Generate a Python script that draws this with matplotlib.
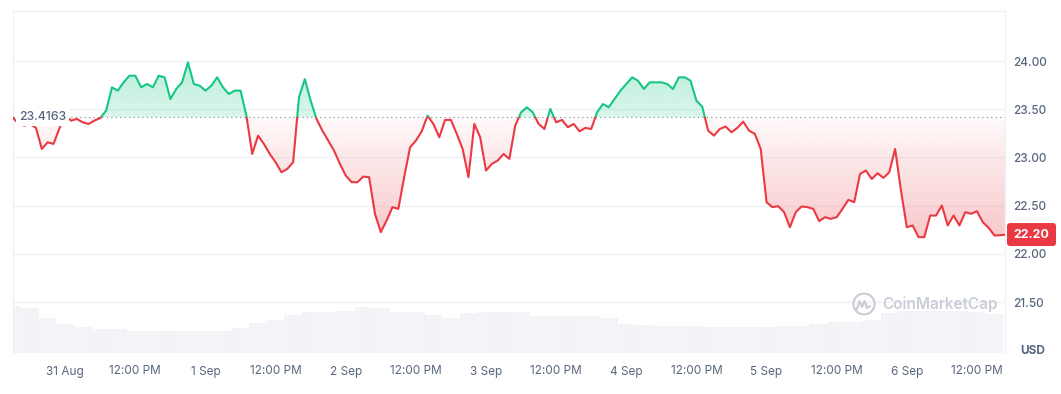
import numpy as np
import matplotlib
matplotlib.use("Agg")
import matplotlib.pyplot as plt
import matplotlib.colors as mcolors
from matplotlib.path import Path
from matplotlib.patches import Rectangle, FancyBboxPatch, Circle
from matplotlib.lines import Line2D
from matplotlib.transforms import IdentityTransform

plt.rcParams['font.family'] = ['Inter', 'DejaVu Sans']
plt.rcParams['hatch.linewidth'] = 0.5

# hourly prices, hours counted from 31 Aug 00:00 (first point = 30 Aug 15:00)
price_start_hour = -9
prices = [
    23.416, 23.35, 23.33, 23.347, 23.306, 23.088, 23.157, 23.140, 23.30,
    23.434, 23.382, 23.399, 23.364, 23.347, 23.382, 23.409, 23.485, 23.727, 23.693, 23.779, 23.848,
    23.848, 23.727, 23.762, 23.727, 23.848, 23.831, 23.606, 23.710, 23.779, 23.986, 23.762, 23.744,
    23.693, 23.744, 23.831, 23.727, 23.658, 23.693, 23.693, 23.434, 23.036, 23.226, 23.140, 23.036,
    22.950, 22.846, 22.881, 22.950, 23.624, 23.813, 23.589, 23.399, 23.278, 23.174, 23.071, 22.933,
    22.812, 22.743, 22.743, 22.801, 22.795, 22.415, 22.225, 22.346, 22.484, 22.466, 22.795, 23.105,
    23.174, 23.271, 23.434, 23.347, 23.209, 23.389, 23.389, 23.244, 23.088, 22.795, 23.347, 23.209,
    22.864, 22.933, 22.967, 23.036, 22.985, 23.330, 23.468, 23.520, 23.468, 23.347, 23.295, 23.503,
    23.364, 23.389, 23.313, 23.347, 23.271, 23.306, 23.295, 23.468, 23.554, 23.520, 23.606, 23.693,
    23.762, 23.831, 23.796, 23.710, 23.779, 23.779, 23.779, 23.762, 23.710, 23.831, 23.831, 23.796,
    23.589, 23.527, 23.278, 23.226, 23.295, 23.320, 23.261, 23.306, 23.371, 23.278, 23.244, 23.088,
    22.535, 22.484, 22.494, 22.432, 22.276, 22.432, 22.491, 22.484, 22.466, 22.339, 22.380, 22.363,
    22.380, 22.466, 22.560, 22.535, 22.829, 22.864, 22.777, 22.836, 22.788, 22.846, 23.088, 22.656,
    22.276, 22.294, 22.173, 22.173, 22.397, 22.397, 22.501, 22.294, 22.397, 22.294, 22.432, 22.415,
    22.442, 22.328, 22.270, 22.190, 22.193, 22.200,
]
open_price = 23.4163
last_price = 22.20

# 3-hourly volume (millions, relative)
vol_start_hour = -9
volumes = [4.7, 4.5, 3.5, 2.9, 2.6, 2.4, 2.4, 2.2, 2.2, 2.2, 2.2, 2.2, 2.2, 2.5, 3.0, 3.3,
           3.8, 4.1, 4.1, 4.2, 4.6, 4.5, 4.1, 4.1, 3.8, 3.5, 4.0, 4.1, 4.1, 4.1, 3.7, 3.7,
           3.7, 3.7, 3.5, 2.9, 2.8, 2.7, 2.7, 2.7, 2.6, 2.6, 2.6, 2.6, 2.7, 2.7, 2.9, 3.1,
           3.1, 3.3, 4.0, 4.2, 4.2, 4.2, 4.2, 4.1, 3.9]

xtick_hours = list(range(0, 157, 12))
xtick_labels = ['31 Aug', '12:00 PM', '1 Sep', '12:00 PM', '2 Sep', '12:00 PM', '3 Sep',
                '12:00 PM', '4 Sep', '12:00 PM', '5 Sep', '12:00 PM', '6 Sep', '12:00 PM']
ytick_values = [21.5, 22.0, 22.5, 23.0, 23.5, 24.0]

GREEN = '#16c784'
RED = '#ea3943'
GRID = '#eff2f5'
TEXT = '#58667e'

W, H = 1061, 394
fig = plt.figure(figsize=(W / 100, H / 100), dpi=100)
ax = fig.add_axes([12.6 / W, 41 / H, 992.4 / W, 342 / H])
XLIM = (-9.0, 160.8)
YLIM = (20.971, 24.519)

x = np.arange(len(prices)) + price_start_hour
y = np.array(prices)

# volume in the background
vax = ax.twinx()
vx = np.arange(len(volumes)) * 3 + vol_start_hour
vax.bar(vx, volumes, width=3, color='#f0f2f5', edgecolor='#f9fafb', hatch='||||||', linewidth=0)
vax.set_ylim(0, 34.2)
vax.axis('off')
vax.set_zorder(ax.get_zorder() - 1)
ax.patch.set_visible(False)


def gradient_fill(where, color, lo, hi, a_lo, a_hi):
    coll = ax.fill_between(x, y, open_price, where=where, interpolate=True,
                           facecolor='none', edgecolor='none')
    clip = Path.make_compound_path(*coll.get_paths())
    rgba = np.zeros((256, 1, 4))
    rgba[..., :3] = mcolors.to_rgb(color)
    rgba[..., 3] = np.linspace(a_lo, a_hi, 256)[:, None]
    img = ax.imshow(rgba, extent=[x[0], x[-1], lo, hi], origin='lower', aspect='auto', zorder=2)
    img.set_clip_path(clip, transform=ax.transData)


gradient_fill(y >= open_price, GREEN, open_price, 24.05, 0.16, 0.32)
gradient_fill(y <= open_price, RED, 22.05, open_price, 0.30, 0.03)

# line coloured above / below the open price
ln_up, = ax.plot(x, y, color=GREEN, lw=1.5, zorder=4, solid_joinstyle='round')
ln_up.set_clip_path(Rectangle((XLIM[0], open_price), XLIM[1] - XLIM[0], 5, transform=ax.transData))
ln_dn, = ax.plot(x, y, color=RED, lw=1.5, zorder=4, solid_joinstyle='round')
ln_dn.set_clip_path(Rectangle((XLIM[0], open_price - 5), XLIM[1] - XLIM[0], 5, transform=ax.transData))

ax.axhline(open_price, color='#7d8595', lw=0.8, ls=(0, (1, 3)), zorder=3)
ax.text(-3.85, open_price, f'{open_price:.4f}', ha='center', va='center', fontsize=8.8,
        color=TEXT, fontweight='medium', zorder=6,
        bbox=dict(boxstyle='square,pad=0.22', fc='white', ec='none'))

ax.set_xlim(*XLIM)
ax.set_ylim(*YLIM)

ax.set_xticks(xtick_hours)
ax.set_xticklabels(xtick_labels)
ax.set_yticks(ytick_values)
ax.set_yticklabels([f'{v:.2f}' for v in ytick_values])
ax.yaxis.tick_right()
ax.tick_params(axis='both', length=0, labelsize=8.5, labelcolor=TEXT)
ax.tick_params(axis='x', pad=9)
ax.tick_params(axis='y', pad=6)
for lbl in ax.get_yticklabels():
    lbl.set_fontweight('medium')
ax.grid(axis='y', color=GRID, lw=1)
ax.set_axisbelow(True)
for side in ['left', 'top', 'right']:
    ax.spines[side].set_color(GRID)
    ax.spines[side].set_linewidth(1)
ax.spines['bottom'].set_visible(False)

# last price tag
_, py = ax.transData.transform((0, last_price))
tag = FancyBboxPatch((1007, py - 11.5), 49, 23, boxstyle='round,pad=0,rounding_size=3',
                     fc=RED, ec='none', transform=IdentityTransform())
fig.add_artist(tag)
fig.text(1013, py, f'{last_price:.2f}', transform=IdentityTransform(), ha='left', va='center',
         fontsize=9, fontweight='bold', color='white')

fig.text(1033, 43, 'USD', transform=IdentityTransform(), ha='center', va='center',
         fontsize=8.5, fontweight='bold', color=TEXT)

# watermark
wm = '#c9cdd5'
fig.add_artist(Circle((864, 90), 10.5, transform=IdentityTransform(), fill=False, ec=wm, lw=1.6))
fig.add_artist(Line2D([857, 859.5, 862, 864.5, 867, 870], [85, 93, 87, 93, 86, 88],
                      transform=IdentityTransform(), color=wm, lw=1.6,
                      solid_joinstyle='round', solid_capstyle='round'))
fig.text(882, 90, 'CoinMarketCap', transform=IdentityTransform(), ha='left', va='center',
         fontsize=11, fontweight='semibold', color=wm)

fig.savefig('out.png', dpi=100, facecolor='white')
